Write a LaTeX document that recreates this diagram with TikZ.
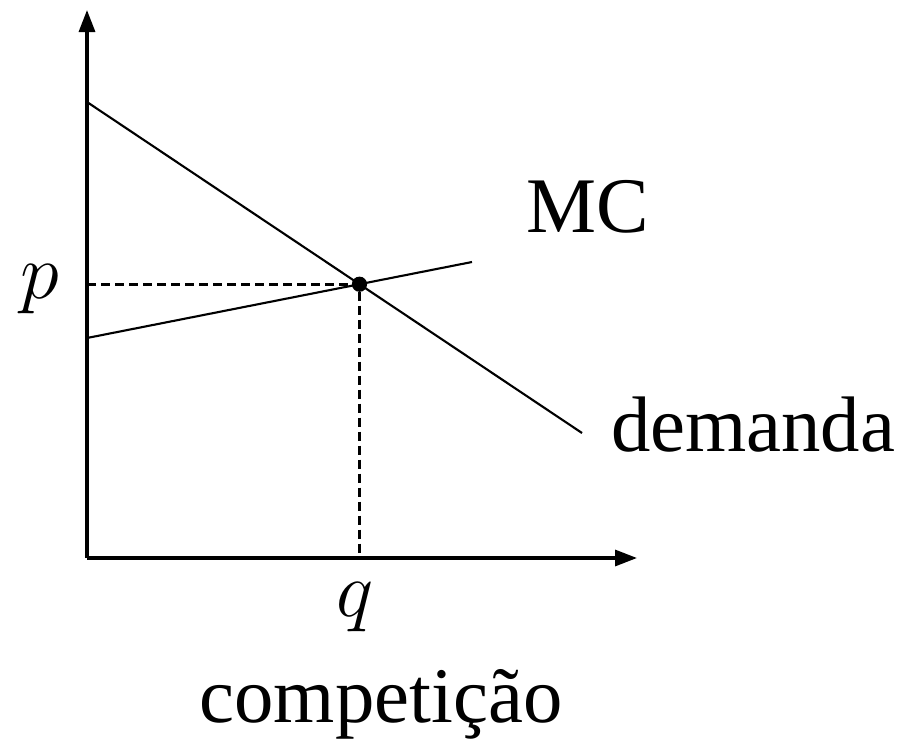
\RequirePackage{fix-cm}
\documentclass[tikz,border=0pt]{standalone}
\usepackage{fontspec}
\setmainfont{Liberation Serif}
\usetikzlibrary{calc, arrows.meta, positioning, intersections}

\begin{document}
\begin{tikzpicture}[>={Triangle[length=0.55cm, width=0.4cm]}]
    % Style definitions
    \tikzset{axis/.style={line width=2.3pt, ->}}
    \tikzset{curve/.style={line width=1.5pt}}
    \tikzset{guide/.style={line width=1.9pt, dash pattern=on 0.22cm off 0.13cm}}
    \tikzset{lbl/.style={inner sep=0pt, font=\fontsize{56}{60}\selectfont}}

    \useasboundingbox (-2.175,-4.625) rectangle (20.45,13.95);

    % Axes
    \coordinate (origin) at (0,0);
    \coordinate (ytop) at (0,13.7);
    \coordinate (xend) at (13.75,0);
    \draw [axis] (origin) -- (ytop);
    \draw [axis] (origin) -- (xend);

    % Curves
    \coordinate (dstart) at (0,11.4);
    \coordinate (dend) at (12.375,3.125);
    \coordinate (mcstart) at (0,5.5);
    \coordinate (mcend) at (9.625,7.4);
    \draw [curve, name path=demand] (dstart) -- (dend);
    \draw [curve, name path=mc] (mcstart) -- (mcend);

    % Equilibrium
    \path [name intersections={of=demand and mc, by=eq}];
    \coordinate (pfoot) at (origin |- eq);
    \coordinate (qfoot) at (origin -| eq);
    \draw [guide] (pfoot) -- (eq) -- (qfoot);
    \fill (eq) circle (0.19cm);

    % Labels
    \node [lbl, left=0.68cm of pfoot, yshift=-0.12cm] (p) {$p$};
    \node [lbl, below=0.6cm of qfoot, xshift=-0.1cm] (q) {$q$};
    \node [lbl, anchor=base] (mclabel) at (12.525,8.15) {MC};
    \node [lbl, right=0.72cm of dend, yshift=0.2cm] (dlabel) {demanda};
    \node [lbl, anchor=base] (title) at (7.35,-4.12) {competição};
\end{tikzpicture}
\end{document}
